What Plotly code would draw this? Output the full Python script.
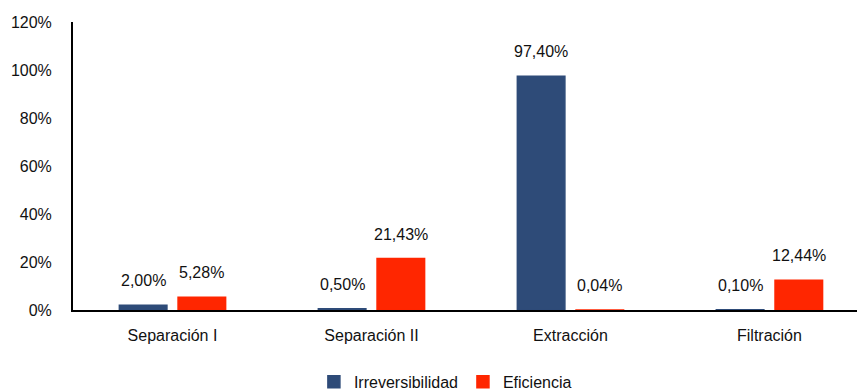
import plotly.graph_objects as go

etapas = ["Separación I", "Separación II", "Extracción", "Filtración"]
irreversibilidad = [2.00, 0.50, 97.40, 0.10]
eficiencia = [5.28, 21.43, 0.04, 12.44]
y_ticks = [0, 20, 40, 60, 80, 100, 120]

series = [
    ("Irreversibilidad", irreversibilidad, "#2E4B78", -1),
    ("Eficiencia", eficiencia, "#FF2600", 1),
]


def etiqueta(v):
    return f"{v:.2f}".replace(".", ",") + "%"


font_family = "Liberation Sans, Arial, sans-serif"
bargap = 0.41
bargroupgap = 0.19

fig = go.Figure()
for nombre, valores, color, lado in series:
    fig.add_trace(go.Bar(
        name=nombre, x=etapas, y=[v / 100 for v in valores],
        marker=dict(color=color, line=dict(color=color, width=1.5)),
        cliponaxis=False,
    ))
    # value labels above each bar, offset to the bar's slot within the group
    offset = lado * (1 - bargap) / 4
    for i, v in enumerate(valores):
        fig.add_annotation(
            x=i + offset, y=v / 100, xref="x", yref="y",
            text=etiqueta(v), showarrow=False, yanchor="bottom",
            yshift=14, font=dict(size=16, color="#111111"),
        )

fig.update_layout(
    width=857, height=392,
    margin=dict(l=73, r=0, t=22, b=82, autoexpand=False),
    paper_bgcolor="white", plot_bgcolor="white",
    font=dict(family=font_family, size=16, color="#111111"),
    barmode="group", bargap=bargap, bargroupgap=bargroupgap,
    showlegend=True,
    legend=dict(orientation="h", x=0.475, xanchor="center",
                yref="container", y=0.026, yanchor="middle",
                font=dict(size=16), itemwidth=30, traceorder="normal"),
)
fig.update_yaxes(
    range=[0, 1.2], tickvals=[t / 100 for t in y_ticks],
    ticktext=[f"{t}%" for t in y_ticks],
    showgrid=False, zeroline=False, showline=True, linecolor="black", linewidth=2,
    ticks="", ticklabelstandoff=16,
)
fig.update_xaxes(
    range=[-0.5, 3.44],
    showgrid=False, showline=True, linecolor="black", linewidth=2,
    ticks="", ticklabelstandoff=10,
)

fig.write_html("out.html")
